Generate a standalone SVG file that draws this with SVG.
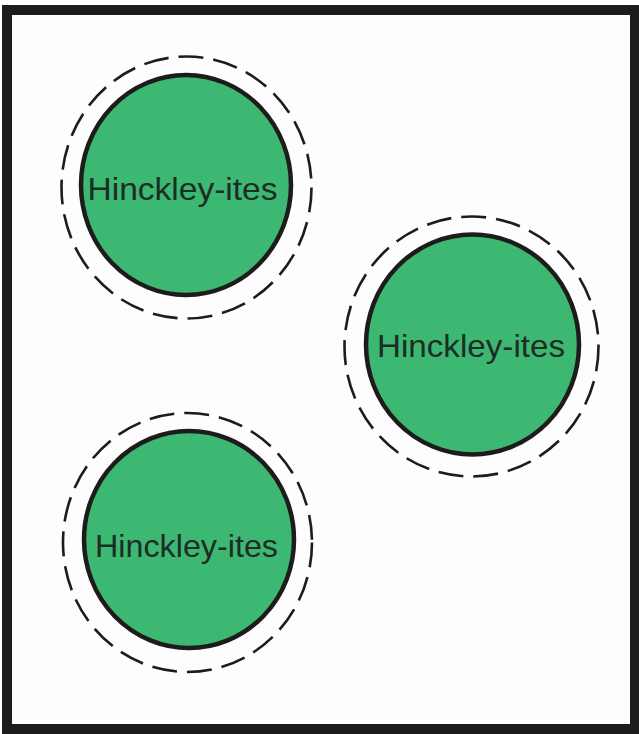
<svg xmlns="http://www.w3.org/2000/svg" width="639" height="734" viewBox="0 0 639 734">
<style>
.frame{fill:#fdfdfd;stroke:#1e1b1b;stroke-width:10}
.halo{fill:none;stroke:#1e1b1b;stroke-width:2.6;stroke-dasharray:25 10}
.body{fill:#3cb873;stroke:#1e1b1b;stroke-width:4.5}
.lbl{font-family:"Liberation Sans","Open Sans",sans-serif;font-size:31.5px;fill:#1d2c24;text-anchor:middle}
</style>
<rect class="frame" x="7" y="10" width="628" height="719"/>
<g id="node1">
<ellipse class="halo" cx="186.5" cy="187.5" rx="125" ry="131"/>
<ellipse class="body" cx="186" cy="185" rx="105" ry="110"/>
<text class="lbl" x="182.5" y="200" textLength="190" lengthAdjust="spacingAndGlyphs">Hinckley-ites</text>
</g>
<g id="node2">
<ellipse class="halo" cx="471.5" cy="346.5" rx="127" ry="130"/>
<ellipse class="body" cx="472.5" cy="344.5" rx="106.5" ry="110"/>
<text class="lbl" x="471" y="357" textLength="188" lengthAdjust="spacingAndGlyphs">Hinckley-ites</text>
</g>
<g id="node3">
<ellipse class="halo" cx="187.5" cy="542.5" rx="124.5" ry="129.5"/>
<ellipse class="body" cx="189" cy="539.5" rx="105" ry="108.5"/>
<text class="lbl" x="186.5" y="557" textLength="183" lengthAdjust="spacingAndGlyphs">Hinckley-ites</text>
</g>
<g id="connectors"></g>
</svg>
